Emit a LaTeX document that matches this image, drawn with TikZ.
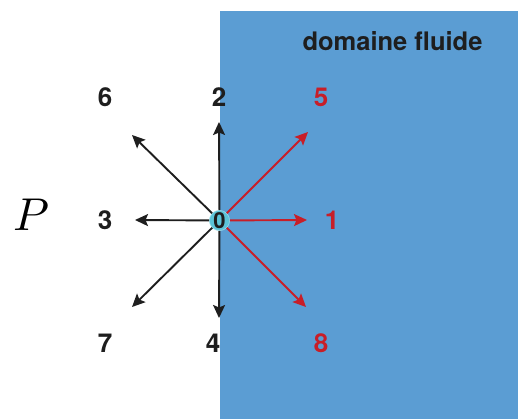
\documentclass[tikz,border=0pt]{standalone}
\usepackage{fontspec}
\setmainfont{TeX Gyre Heros}
\usetikzlibrary{arrows.meta}
\definecolor{fluidblue}{RGB}{91,157,211}
\definecolor{arrred}{RGB}{200,30,40}
\definecolor{nodecyan}{RGB}{92,196,216}
\definecolor{txtdark}{RGB}{30,30,30}
\tikzset{
  lbl/.style={font=\fontsize{26}{30}\selectfont\bfseries, text=txtdark, inner sep=0pt},
  lblred/.style={lbl, text=arrred},
  arr/.style={line width=1.9pt, draw=txtdark, -{Stealth[length=13pt,width=12pt,inset=2.5pt]}},
  arrr/.style={arr, draw=arrred},
  centre/.style={circle, fill=nodecyan, draw=nodecyan!60!white, line width=0.6pt, minimum size=20pt, inner sep=0pt, text=txtdark, font=\fontsize{22}{24}\selectfont\bfseries}
}
\begin{document}
\begin{tikzpicture}[x=1pt,y=-1pt]
\useasboundingbox (0,0) rectangle (518,419);
\fill[fluidblue] (220,11) rectangle (518,419);
\node[lbl, font=\fontsize{25.5}{30}\selectfont\bfseries] (title) at (392.5,41) {domaine fluide};
\node[inner sep=0pt, scale=4.6] (P) at (31,215) {$P$};
\coordinate (t1) at (307,220);
\coordinate (t2) at (219,122);
\coordinate (t3) at (135,220);
\coordinate (t4) at (219,318);
\coordinate (t5) at (308,132);
\coordinate (t6) at (132,135);
\coordinate (t7) at (132,307);
\coordinate (t8) at (306,307);
\node[centre] (c) at (219.5,220.5) {0};
\draw[arr] (c) -- (t2);
\draw[arr] (c) -- (t3);
\draw[arr] (c) -- (t4);
\draw[arr] (c) -- (t6);
\draw[arr] (c) -- (t7);
\draw[arrr] (c) -- (t1);
\draw[arrr] (c) -- (t5);
\draw[arrr] (c) -- (t8);
\node[lbl] (l6) at (105,97) {6};
\node[lbl] (l2) at (219,97) {2};
\node[lblred] (l5) at (321,97) {5};
\node[lbl] (l3) at (105,220) {3};
\node[lblred] (l1) at (332,220) {1};
\node[lbl] (l7) at (105,343) {7};
\node[lbl] (l4) at (213,343) {4};
\node[lblred] (l8) at (321,343) {8};
\end{tikzpicture}
\end{document}
